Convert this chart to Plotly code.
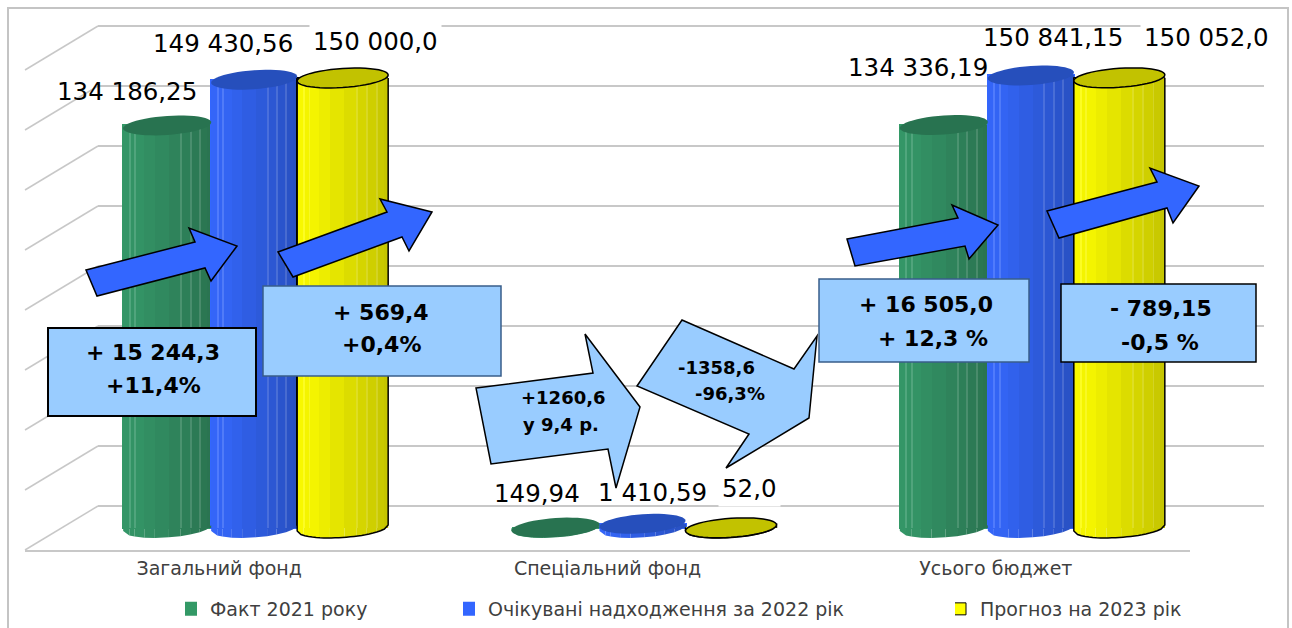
import math
import plotly.graph_objects as go

# ---------- data ----------
categories = ["Загальний фонд", "Спеціальний фонд", "Усього бюджет"]
fact_2021 = [134186.25, 149.94, 134336.19]
expected_2022 = [149430.56, 1410.59, 150841.15]
forecast_2023 = [150000.0, 52.0, 150052.0]
series_names = ["Факт 2021 року", "Очікувані надходження за 2022 рік", "Прогноз на 2023 рік"]
fact_labels = ["134 186,25", "149,94", "134 336,19"]
expected_labels = ["149 430,56", "1 410,59", "150 841,15"]
forecast_labels = ["150 000,0", "52,0", "150 052,0"]
grid_ticks = [0, 20000, 40000, 60000, 80000, 100000, 120000, 140000, 160000]

# ---------- page geometry ----------
W, H = 1292, 628
FONT = "DejaVu Sans"
PX_PER_UNIT = 0.003     # 60 px per 20 000
PITCH = 388.33          # px between categories
ZERO_PX = 528           # baseline of the cylinders
WALL_ZERO_PX = 506      # baseline of the back wall
FLOOR_PX = 550
def X(p): return p / W
def Y(p): return 1 - p / H
def ux(px): return px / PITCH     # px offset -> x units
def uy(px): return px / PX_PER_UNIT  # px offset -> y units

# ---------- cylinder styling ----------
cyl_style = [
    dict(off=-96, w=88, light="#359A6A", dark="#2A7350", cap="#287350", outline=False, base="#339966"),
    dict(off=-8, w=86, light="#3568FF", dark="#2850C0", cap="#264FBC", outline=False, base="#3366FF"),
    dict(off=78, w=91, light="#FFFF00", dark="#C4C400", cap="#C2C200", outline=True, base="#FFFF00"),
]
strip_edges = [0, .07, .13, .24, .36, .52, .65, .76, .87, .95, 1]
hair_edges = [.07, .13, .65, .76, .87]
CAP_B, CAP_TILT = 9.5, 3.0

def mix(c1, c2, t):
    a = [int(c1[i:i + 2], 16) for i in (1, 3, 5)]
    b = [int(c2[i:i + 2], 16) for i in (1, 3, 5)]
    return "#%02X%02X%02X" % tuple(round(a[k] + (b[k] - a[k]) * t) for k in range(3))

def lower_px(u):
    return CAP_B * math.sqrt(max(0, 1 - u * u)) - CAP_TILT * u

series = [fact_2021, expected_2022, forecast_2023]
labels = [fact_labels, expected_labels, forecast_labels]
xs = [0, 1, 2]

fig = go.Figure()
# invisible trace that keeps the back-wall axes alive
fig.add_trace(go.Scatter(x=[0, 1], y=[grid_ticks[0], grid_ticks[-1]], mode="lines", opacity=0,
                         xaxis="x", yaxis="y", showlegend=False, hoverinfo="skip"))

shapes = []
# back-wall side diagonals
for t in grid_ticks:
    yb = WALL_ZERO_PX - t * PX_PER_UNIT
    shapes.append(dict(type="line", xref="paper", yref="paper", layer="below",
                       x0=X(98), y0=Y(yb), x1=X(25), y1=Y(yb + 44),
                       line=dict(color="#C8C8C8", width=1.5)))
# outer frame
shapes.append(dict(type="path", xref="paper", yref="paper", layer="below",
                   path=f"M{X(8)},{Y(640)} L{X(8)},{Y(8)} L{X(1288)},{Y(8)} L{X(1288)},{Y(640)}",
                   line=dict(color="#C4C4C4", width=2)))

legend_ids = ["legend", "legend2", "legend3"]
for si, (vals, st) in enumerate(zip(series, cyl_style)):
    off, w = st["off"], st["w"]
    # full-width base bar: carries the legend entry
    fig.add_trace(go.Bar(x=xs, y=vals, width=ux(w), offset=ux(off), xaxis="x2", yaxis="y2",
                         name=series_names[si], legend=legend_ids[si],
                         marker=dict(color=st["base"],
                                     line=dict(color="#000000" if st["outline"] else st["base"],
                                               width=1 if st["outline"] else 2)),
                         hovertemplate="%{y}<extra>" + series_names[si] + "</extra>"))
    # shaded strips
    for e0, e1 in zip(strip_edges[:-1], strip_edges[1:]):
        t = (e0 + e1) / 2
        col = mix(st["light"], st["dark"], t if t > .1 else t + .08)
        fig.add_trace(go.Bar(x=xs, y=vals, width=ux((e1 - e0) * w), offset=ux(off + e0 * w),
                             xaxis="x2", yaxis="y2", showlegend=False, hoverinfo="skip",
                             marker=dict(color=col, line=dict(width=0))))
        # rounded foot of the strip (below the zero line)
        for c in xs:
            u0, u1 = 2 * e0 - 1, 2 * e1 - 1
            px0, px1 = c + ux(off + e0 * w), c + ux(off + e1 * w)
            shapes.append(dict(type="path", xref="x2", yref="y2", layer="above",
                               path=f"M{px0},0 L{px1},0 L{px1},{-uy(lower_px(u1))} L{px0},{-uy(lower_px(u0))} Z",
                               fillcolor=col, line=dict(width=0)))
    # thin light seams
    for e in hair_edges:
        col = mix(mix(st["light"], st["dark"], e), "#FFFFFF", .14)
        fig.add_trace(go.Bar(x=xs, y=vals, width=ux(1), offset=ux(off + e * w),
                             xaxis="x2", yaxis="y2", showlegend=False, hoverinfo="skip",
                             marker=dict(color=col, line=dict(width=0))))

# caps and outlines
for si, (vals, st) in enumerate(zip(series, cyl_style)):
    off, w = st["off"], st["w"]
    for c, v in zip(xs, vals):
        cx = c + ux(off + w / 2)
        a = ux(w / 2)
        if st["outline"]:
            foot = []
            for i in range(25):
                u = -1 + i / 12
                foot.append(f"{cx + a * u},{-uy(lower_px(u))}")
            p = f"M{cx - a},{v} L" + " L".join(foot) + f" L{cx + a},{v}"
            shapes.append(dict(type="path", xref="x2", yref="y2", layer="above", path=p,
                               line=dict(color="#000000", width=1.5)))
        pts = []
        for i in range(48):
            th = 2 * math.pi * i / 48
            u = math.cos(th)
            dy = CAP_B * math.sin(th) + CAP_TILT * u   # upward px
            pts.append(f"{cx + a * u},{v + uy(dy)}")
        shapes.append(dict(type="path", xref="x2", yref="y2", layer="above",
                           path="M" + " L".join(pts) + " Z", fillcolor=st["cap"],
                           line=dict(color="#000000", width=1.5) if st["outline"] else dict(width=0)))

# call-out arrows and boxes
def poly(points, fill, line="#000000", width=1.5):
    path = "M" + " L".join(f"{X(a)},{Y(b)}" for a, b in points) + " Z"
    shapes.append(dict(type="path", xref="paper", yref="paper", layer="above", path=path,
                       fillcolor=fill, line=dict(color=line, width=width)))

BLUE, SKY = "#3366FF", "#99CCFF"
poly([(86, 270), (195, 242), (189, 228), (237, 246), (211, 281), (205, 268), (97, 296)], BLUE)
poly([(278, 252), (387, 212), (380, 199), (432, 212), (409, 251), (402, 237), (293, 277)], BLUE)
poly([(847, 239), (958, 218), (952, 205), (998, 225), (969, 259), (965, 246), (855, 266)], BLUE)
poly([(1047, 211), (1157, 182), (1150, 168), (1199, 186), (1173, 223), (1167, 208), (1059, 238)], BLUE)
poly([(476, 388), (593, 373), (585, 334), (640, 407), (616, 488), (608, 449), (491, 464)], SKY)
poly([(637, 386), (682, 320), (794, 369), (817, 336), (809, 418), (726, 468), (749, 434)], SKY)
poly([(48, 328), (256, 328), (256, 416), (48, 416)], SKY, "#000000", 2)
poly([(263, 286), (501, 286), (501, 376), (263, 376)], SKY, "#385D8A", 1.5)
poly([(819, 279), (1029, 279), (1029, 362), (819, 362)], SKY, "#385D8A", 1.5)
poly([(1061, 284), (1256, 284), (1256, 362), (1061, 362)], SKY, "#000000", 1.5)

annotations = []
def note(text, x, y, size, bold=False, bg=None, pad=1, align="center", xanchor="center"):
    annotations.append(dict(text=text, xref="paper", yref="paper", x=X(x), y=Y(y),
                            xanchor=xanchor, yanchor="middle", showarrow=False, align=align,
                            bgcolor=bg, borderpad=pad,
                            font=dict(family=FONT, size=size, color="#000000", weight=700 if bold else 400)))

# value labels
label_pos = [
    [(127, 91), (537, 493), (918, 68)],
    [(223, 44), (652, 492), (1053, 38)],
    [(376, 41), (749, 488), (1206, 38)],
]
for si in range(3):
    for ci in range(3):
        px, py = label_pos[si][ci]
        note(labels[si][ci], px, py, 24.5, bg="#FFFFFF" if si == 2 else None, pad=3 if si == 2 else 1)

# call-out texts
for txt, x, y in [("+ 15 244,3", 153, 352), ("+11,4%", 153, 385),
                  ("+ 569,4", 381, 312), ("+0,4%", 381, 344),
                  ("+ 16 505,0", 926, 305), ("+ 12,3 %", 933, 338),
                  ("- 789,15", 1161, 308), ("-0,5 %", 1160, 342)]:
    note(txt, x, y, 22, bold=True)
note("+1260,6", 563, 397, 18, bold=True)
note("у 9,4 р.", 521, 424, 18, bold=True, xanchor="left")
note("-1358,6", 716, 367, 18, bold=True)
note("-96,3%", 730, 393, 18, bold=True)

axis_off = dict(showticklabels=False, ticks="", showline=False, zeroline=False, showgrid=False)
def legend_at(px):
    return dict(x=X(px), y=0, xanchor="left", yanchor="bottom",
                orientation="h", bgcolor="rgba(0,0,0,0)", borderwidth=0, indentation=-15,
                itemclick=False, itemdoubleclick=False,
                font=dict(family=FONT, size=19, color="#404040"))

GRID_TOP_PX, GRID_BOTTOM_PX = 20, 512
fig.update_layout(
    width=W, height=H, autosize=False,
    margin=dict(l=0, r=0, t=0, b=0),
    paper_bgcolor="#FFFFFF", plot_bgcolor="rgba(0,0,0,0)",
    barmode="overlay", bargap=0, showlegend=True,
    # back wall
    xaxis=dict(domain=[X(98), X(1264)], range=[0, 1], anchor="y", **axis_off),
    yaxis=dict(domain=[Y(GRID_BOTTOM_PX), Y(GRID_TOP_PX)],
               range=[(WALL_ZERO_PX - GRID_BOTTOM_PX) / PX_PER_UNIT, (WALL_ZERO_PX - GRID_TOP_PX) / PX_PER_UNIT],
               anchor="x", tickvals=grid_ticks, showticklabels=False, ticks="", showline=False,
               zeroline=False, showgrid=True, gridcolor="#C8C8C8", gridwidth=1.5),
    # cylinders
    xaxis2=dict(domain=[X(25), X(1190)], range=[-0.5, 2.5], anchor="y2",
                tickvals=xs, ticktext=categories, ticks="", showgrid=False, zeroline=False,
                showline=True, linecolor="#C8C8C8", linewidth=2,
                tickfont=dict(family=FONT, size=19, color="#404040")),
    yaxis2=dict(domain=[Y(FLOOR_PX), Y(20)],
                range=[(ZERO_PX - FLOOR_PX) / PX_PER_UNIT, (ZERO_PX - 20) / PX_PER_UNIT],
                anchor="x2", **axis_off),
    legend=legend_at(185), legend2=legend_at(463), legend3=legend_at(955),
    shapes=shapes, annotations=annotations,
)
fig.write_html("out.html", config={"displayModeBar": False},
               post_script="document.body.style.margin='0';document.body.style.overflow='hidden';")
